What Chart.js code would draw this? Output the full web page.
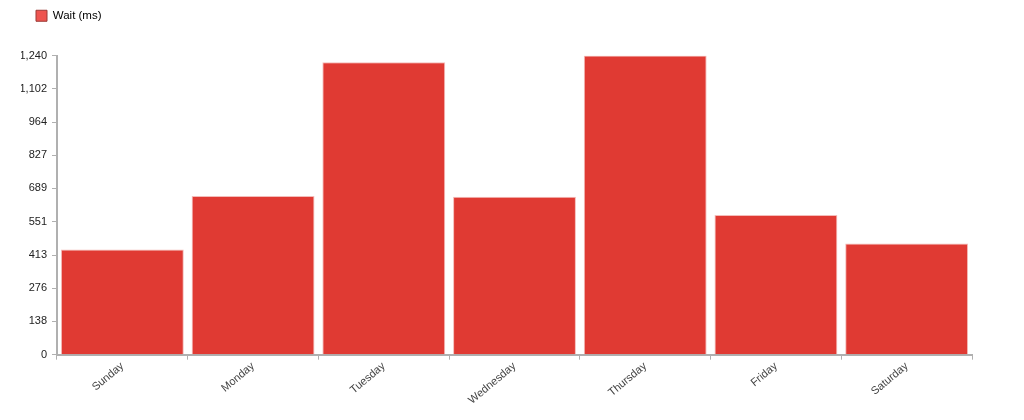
<!DOCTYPE html>
<html>
<head>
<meta charset="utf-8">
<script src="https://cdn.jsdelivr.net/npm/chart.js@4/dist/chart.umd.min.js"></script>
<style>
  html, body { margin: 0; padding: 0; background: #fff; }
  #wrap { width: 1024px; height: 420px; }
</style>
</head>
<body>
<div id="wrap"><canvas id="myChart"></canvas></div>
<script>
// data
const days = ["Sunday", "Monday", "Tuesday", "Wednesday", "Thursday", "Friday", "Saturday"];
const waitMs = [436, 658, 1212, 655, 1240, 579, 461];
const yTicks = [0, 138, 276, 413, 551, 689, 827, 964, 1102, 1240];

const axisColor = "#b0b0b0";

// push the plot area down below the legend, and nudge the legend right
const legendGap = {
    id: "legendGap",
    beforeInit(chart) {
        const fit = chart.legend.fit;
        chart.legend.fit = function () {
            fit.bind(chart.legend)();
            this.height += 24;
        };
    },
    afterLayout(chart) {
        chart.legend.left += 5;
        chart.legend.right += 5;
    }
};

new Chart("myChart", {
    type: "bar",
    data: {
        labels: days,
        datasets: [{
            label: "Wait (ms)",
            data: waitMs,
            backgroundColor: "#e03a33",
            borderColor: "#f4bcb9",
            borderWidth: 1,
            barPercentage: 0.94,
            categoryPercentage: 1.0
        }]
    },
    options: {
        responsive: true,
        maintainAspectRatio: false,
        animation: false,
        layout: { padding: { left: 21, right: 52, top: 0, bottom: 13 } },
        plugins: {
            legend: {
                position: "top",
                align: "start",
                labels: {
                    boxWidth: 11,
                    boxHeight: 11,
                    padding: 10,
                    color: "#222",
                    font: { family: "Liberation Sans", size: 11.5 },
                    generateLabels: (chart) => [{
                        text: "Wait (ms)",
                        fillStyle: "#ee5550",
                        strokeStyle: "#9a3a36",
                        lineWidth: 1,
                        datasetIndex: 0
                    }]
                }
            },
            tooltip: { enabled: false }
        },
        scales: {
            x: {
                grid: { drawOnChartArea: false, color: axisColor, tickLength: 5, offset: true },
                border: { color: axisColor, width: 2 },
                ticks: {
                    maxRotation: 40,
                    minRotation: 40,
                    color: "#444",
                    padding: 0,
                    font: { family: "Liberation Sans", size: 11 }
                }
            },
            y: {
                min: 0,
                max: 1240,
                afterFit: (scale) => { scale.width = 36; },
                afterBuildTicks: (scale) => {
                    scale.ticks = yTicks.map((v) => ({ value: v }));
                },
                grid: { drawOnChartArea: false, color: axisColor, tickLength: 5 },
                border: { color: axisColor, width: 2 },
                ticks: {
                    color: "#222",
                    padding: 5,
                    font: { family: "Liberation Sans", size: 11 },
                    callback: (v) => Number(v).toLocaleString("en-US")
                }
            }
        }
    },
    plugins: [legendGap]
});
</script>
</body>
</html>
